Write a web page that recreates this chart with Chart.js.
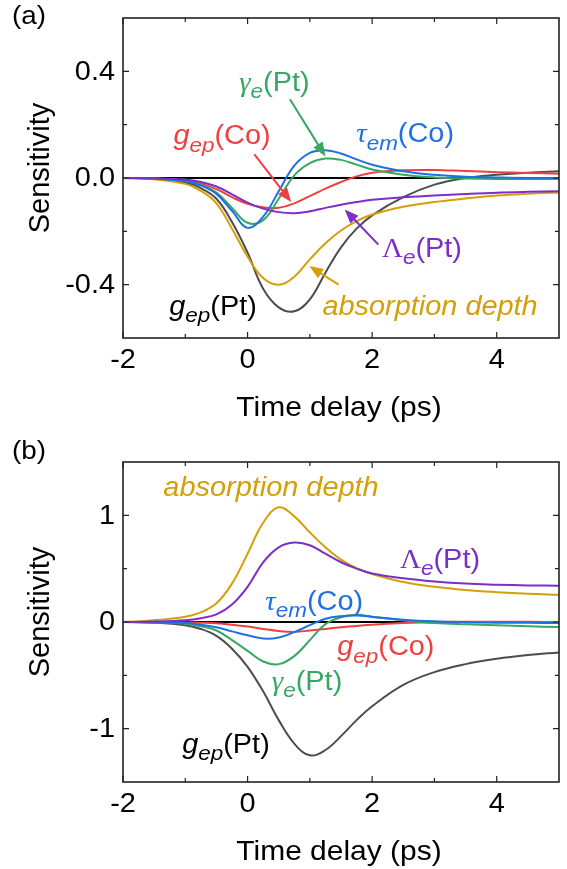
<!DOCTYPE html>
<html>
<head>
<meta charset="utf-8">
<script src="https://cdn.jsdelivr.net/npm/chart.js@4.4.0/dist/chart.umd.min.js"></script>
<style>
  html, body { margin: 0; padding: 0; background: #fff; }
  #wrap { position: relative; width: 567px; height: 869px; }
  canvas { position: absolute; left: 0; }
</style>
</head>
<body>
<div id="wrap">
  <canvas id="chartA" width="567" height="434" style="top:0"></canvas>
  <canvas id="chartB" width="567" height="435" style="top:434px"></canvas>
</div>
<script>
// time axis (ps), shared by both panels
const timeDelay = [-2, -1.5, -1, -0.75, -0.5, -0.25, 0, 0.25, 0.5, 0.75, 1, 1.25, 1.5, 1.75, 2, 2.5, 3, 3.5, 4, 4.5, 5];

// panel (a)
const aGepPt   = [0, -0.003, -0.017, -0.038, -0.078, -0.165, -0.28, -0.415, -0.485, -0.5, -0.455, -0.355, -0.26, -0.19, -0.14, -0.072, -0.025, 0, 0.012, 0.02, 0.025];
const aAbsorb  = [0, -0.005, -0.022, -0.048, -0.095, -0.19, -0.295, -0.375, -0.4, -0.37, -0.305, -0.245, -0.197, -0.162, -0.137, -0.108, -0.09, -0.077, -0.066, -0.059, -0.054];
const aGepCo   = [0, -0.002, -0.01, -0.021, -0.042, -0.072, -0.097, -0.11, -0.112, -0.095, -0.068, -0.04, -0.015, 0.006, 0.02, 0.029, 0.03, 0.026, 0.022, 0.019, 0.016];
const aGammaPt = [0, -0.002, -0.011, -0.025, -0.055, -0.112, -0.168, -0.158, -0.078, 0.01, 0.056, 0.073, 0.068, 0.05, 0.032, 0.012, 0.002, -0.002, -0.004, -0.004, -0.004];
const aTauCo   = [0, -0.002, -0.012, -0.028, -0.06, -0.123, -0.187, -0.145, -0.05, 0.046, 0.094, 0.104, 0.092, 0.07, 0.05, 0.025, 0.012, 0.005, 0.002, 0, 0];
const aLambdaPt= [0, -0.001, -0.006, -0.015, -0.032, -0.061, -0.092, -0.115, -0.128, -0.132, -0.125, -0.112, -0.1, -0.09, -0.082, -0.072, -0.066, -0.06, -0.055, -0.052, -0.05];

// panel (b)
const bGepPt   = [0, -0.006, -0.03, -0.065, -0.13, -0.25, -0.42, -0.65, -0.92, -1.14, -1.25, -1.2, -1.07, -0.92, -0.79, -0.59, -0.47, -0.395, -0.345, -0.31, -0.285];
const bAbsorb  = [0, 0.016, 0.05, 0.09, 0.175, 0.36, 0.64, 0.93, 1.075, 0.99, 0.84, 0.7, 0.585, 0.505, 0.45, 0.375, 0.33, 0.3, 0.28, 0.265, 0.255];
const bGepCo   = [0, 0, -0.004, -0.007, -0.012, -0.025, -0.042, -0.065, -0.085, -0.093, -0.08, -0.065, -0.05, -0.037, -0.025, -0.01, 0, 0.003, 0.003, 0.002, 0];
const bGammaPt = [0, -0.003, -0.016, -0.04, -0.08, -0.17, -0.27, -0.37, -0.395, -0.32, -0.17, -0.02, 0.045, 0.068, 0.05, 0.015, -0.01, -0.022, -0.03, -0.04, -0.047];
const bTauCo   = [0, -0.002, -0.01, -0.025, -0.05, -0.088, -0.125, -0.155, -0.145, -0.095, -0.03, 0.03, 0.055, 0.06, 0.048, 0.022, 0.006, -0.002, -0.006, -0.008, -0.01];
const bLambdaPt= [0, 0.004, 0.016, 0.035, 0.072, 0.165, 0.33, 0.56, 0.7, 0.745, 0.72, 0.64, 0.56, 0.5, 0.455, 0.41, 0.38, 0.36, 0.35, 0.343, 0.34];

// ticks
const xTicks = [-2, 0, 2, 4];
const xTickLabels = ['-2', '0', '2', '4'];
const xMinor = [-1, 1, 3];
const aYTicks = [-0.4, 0, 0.4];
const aYTickLabels = ['-0.4', '0.0', '0.4'];
const aYMinor = [-0.2, 0.2];
const bYTicks = [-1, 0, 1];
const bYTickLabels = ['-1', '0', '1'];
const bYMinor = [-0.5, 0.5];

const BLACK = '#4d4d4d', GOLD = '#d49f08', RED = '#ef4040', GREEN = '#35a862', BLUE = '#1f70e3', PURPLE = '#7b2fc6';
const FONT = '"Liberation Sans", Arial, sans-serif';
const SERIF = '"Liberation Serif", "Times New Roman", serif';
const STRETCH = 1.07;

function fontFor(style, size) {
  const sub = Math.round(size * 0.78);
  if (style === 'i') return `italic ${size}px ${FONT}`;
  if (style === 's') return `italic ${sub}px ${FONT}`;
  if (style === 'g') return `italic ${size}px ${SERIF}`;
  if (style === 'G') return `${size}px ${SERIF}`;
  return `${size}px ${FONT}`;
}

// horizontally widened text, like the reference lettering
function wideText(ctx, text, x, y, align) {
  const w = ctx.measureText(text).width * STRETCH;
  const x0 = align === 'center' ? x - w / 2 : align === 'right' ? x - w : x;
  ctx.save();
  ctx.textAlign = 'left';
  ctx.translate(x0, y);
  ctx.scale(STRETCH, 1);
  ctx.fillText(text, 0, 0);
  ctx.restore();
}

function drawRich(ctx, parts, cx, cy, color, size) {
  ctx.save();
  ctx.fillStyle = color;
  ctx.textAlign = 'left';
  ctx.textBaseline = 'alphabetic';
  const ws = parts.map(([t, s]) => { ctx.font = fontFor(s, size); return ctx.measureText(t).width * STRETCH; });
  let x = cx - ws.reduce((a, b) => a + b, 0) / 2;
  const base = cy + size * 0.28;
  parts.forEach(([t, s], i) => {
    ctx.font = fontFor(s, size);
    wideText(ctx, t, x, base + (s === 's' ? size * 0.28 : 0), 'left');
    x += ws[i];
  });
  ctx.restore();
}

function drawArrow(ctx, x0, y0, x1, y1, color) {
  const a = Math.atan2(y1 - y0, x1 - x0);
  const L = 14, W = 5.5;
  const c = Math.cos(a), s = Math.sin(a);
  ctx.save();
  ctx.strokeStyle = color;
  ctx.fillStyle = color;
  ctx.lineWidth = 2;
  ctx.beginPath();
  ctx.moveTo(x0, y0);
  ctx.lineTo(x1 - L * 0.8 * c, y1 - L * 0.8 * s);
  ctx.stroke();
  ctx.beginPath();
  ctx.moveTo(x1, y1);
  ctx.lineTo(x1 - L * c + W * s, y1 - L * s - W * c);
  ctx.lineTo(x1 - L * c - W * s, y1 - L * s + W * c);
  ctx.closePath();
  ctx.fill();
  ctx.restore();
}

const framePlugin = {
  id: 'frame',
  beforeDatasetsDraw(chart) {
    const { ctx, chartArea: { left, right }, scales: { y } } = chart;
    const y0 = y.getPixelForValue(0);
    ctx.save();
    ctx.strokeStyle = '#000';
    ctx.lineWidth = 2;
    ctx.beginPath();
    ctx.moveTo(left, y0);
    ctx.lineTo(right, y0);
    ctx.stroke();
    ctx.restore();
  },
  afterDatasetsDraw(chart, args, opts) {
    const { ctx, chartArea: { left, right, top, bottom }, scales: { x, y } } = chart;
    ctx.save();
    ctx.strokeStyle = '#222';
    ctx.lineWidth = 1.6;
    ctx.strokeRect(left, top, right - left, bottom - top);

    // inward ticks on all four sides
    const tick = (vals, len, horiz) => {
      vals.forEach(v => {
        ctx.beginPath();
        if (horiz) {
          const px = x.getPixelForValue(v);
          ctx.moveTo(px, bottom); ctx.lineTo(px, bottom - len);
          ctx.moveTo(px, top); ctx.lineTo(px, top + len);
        } else {
          const py = y.getPixelForValue(v);
          ctx.moveTo(left, py); ctx.lineTo(left + len, py);
          ctx.moveTo(right, py); ctx.lineTo(right - len, py);
        }
        ctx.stroke();
      });
    };
    ctx.lineWidth = 1.2;
    tick(xTicks, 6, true);
    tick(xMinor, 4, true);
    tick(opts.yTicks, 6, false);
    tick(opts.yMinor, 4, false);

    // tick labels
    ctx.fillStyle = '#000';
    ctx.font = `27px ${FONT}`;
    ctx.textBaseline = 'middle';
    xTicks.forEach((v, i) => wideText(ctx, xTickLabels[i], x.getPixelForValue(v), bottom + 23, 'center'));
    opts.yTicks.forEach((v, i) => wideText(ctx, opts.yLabels[i], left - 8, y.getPixelForValue(v) + 1, 'right'));

    // axis titles
    ctx.font = `28px ${FONT}`;
    wideText(ctx, 'Time delay (ps)', (left + right) / 2 - 2, bottom + 70, 'center');
    ctx.save();
    ctx.translate(41, (top + bottom) / 2 - 10);
    ctx.rotate(-Math.PI / 2);
    ctx.font = `29px ${FONT}`;
    ctx.textAlign = 'center';
    ctx.fillText('Sensitivity', 0, 0);
    ctx.restore();

    // panel label
    ctx.font = `26px ${FONT}`;
    wideText(ctx, opts.panel, 12, top - opts.panelOffset, 'left');

    // arrows and labels
    opts.arrows.forEach(a => drawArrow(ctx,
      x.getPixelForValue(a.from[0]), y.getPixelForValue(a.from[1]),
      x.getPixelForValue(a.to[0]), y.getPixelForValue(a.to[1]), a.color));
    opts.notes.forEach(n => drawRich(ctx, n.parts, x.getPixelForValue(n.x), y.getPixelForValue(n.y), n.color, 27));
    ctx.restore();
  }
};

const gepPt = [['g', 'i'], ['ep', 's'], ['(Pt)', '']];
const gepCo = [['g', 'i'], ['ep', 's'], ['(Co)', '']];
const gammaPt = [['\u03B3', 'g'], ['e', 's'], ['(Pt)', '']];
const tauCo = [['\u03C4', 'g'], ['em', 's'], ['(Co)', '']];
const lambdaPt = [['\u039B', 'G'], ['e', 's'], ['(Pt)', '']];
const absorb = [['absorption depth', 'i']];

function makeChart(id, series, yMin, yMax, padTop, xHeight, frameOpts) {
  return new Chart(document.getElementById(id), {
    type: 'line',
    data: {
      datasets: series.map(s => ({
        data: timeDelay.map((t, i) => ({ x: t, y: s.values[i] })),
        borderColor: s.color,
        borderWidth: 2,
        pointRadius: 0,
        tension: 0.4,
        fill: false
      }))
    },
    options: {
      responsive: false,
      animation: false,
      devicePixelRatio: 1,
      layout: { padding: { top: padTop, right: 8, left: 0, bottom: 0 } },
      plugins: { legend: { display: false }, tooltip: { enabled: false }, frame: frameOpts },
      scales: {
        x: {
          type: 'linear', min: -2, max: 5,
          ticks: { display: false }, grid: { display: false }, border: { display: false },
          afterFit: s => { s.height = xHeight; }
        },
        y: {
          type: 'linear', min: yMin, max: yMax,
          ticks: { display: false }, grid: { display: false }, border: { display: false },
          afterFit: s => { s.width = 123; }
        }
      }
    },
    plugins: [framePlugin]
  });
}

makeChart('chartA', [
  { values: aLambdaPt, color: PURPLE },
  { values: aTauCo, color: BLUE },
  { values: aGammaPt, color: GREEN },
  { values: aGepCo, color: RED },
  { values: aAbsorb, color: GOLD },
  { values: aGepPt, color: BLACK }
], -0.6, 0.6, 18, 96, {
  panel: '(a)', panelOffset: 1,
  yTicks: aYTicks, yLabels: aYTickLabels, yMinor: aYMinor,
  notes: [
    { parts: gammaPt, x: 0.43, y: 0.355, color: GREEN },
    { parts: gepCo, x: -0.41, y: 0.156, color: RED },
    { parts: tauCo, x: 2.53, y: 0.163, color: BLUE },
    { parts: lambdaPt, x: 2.8, y: -0.267, color: PURPLE },
    { parts: absorb, x: 2.93, y: -0.484, color: GOLD },
    { parts: gepPt, x: -0.555, y: -0.484, color: '#000' }
  ],
  arrows: [
    { from: [0.68, 0.295], to: [1.25, 0.081], color: GREEN },
    { from: [0.11, 0.089], to: [0.70, -0.09], color: RED },
    { from: [2.1, -0.25], to: [1.56, -0.118], color: PURPLE },
    { from: [1.46, -0.4], to: [0.99, -0.33], color: GOLD }
  ]
});

makeChart('chartB', [
  { values: bLambdaPt, color: PURPLE },
  { values: bTauCo, color: BLUE },
  { values: bGammaPt, color: GREEN },
  { values: bGepCo, color: RED },
  { values: bAbsorb, color: GOLD },
  { values: bGepPt, color: BLACK }
], -1.5, 1.5, 28, 87, {
  panel: '(b)', panelOffset: 10,
  yTicks: bYTicks, yLabels: bYTickLabels, yMinor: bYMinor,
  notes: [
    { parts: absorb, x: 0.376, y: 1.25, color: GOLD },
    { parts: lambdaPt, x: 3.09, y: 0.578, color: PURPLE },
    { parts: tauCo, x: 1.07, y: 0.185, color: BLUE },
    { parts: gepCo, x: 2.22, y: -0.24, color: RED },
    { parts: gammaPt, x: 0.955, y: -0.565, color: GREEN },
    { parts: gepPt, x: -0.347, y: -1.155, color: '#000' }
  ],
  arrows: []
});
</script>
</body>
</html>
